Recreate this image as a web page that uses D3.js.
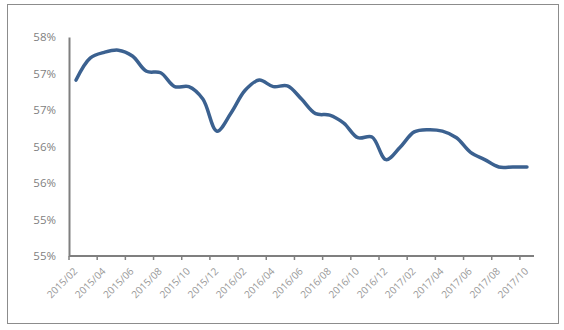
<!DOCTYPE html>
<html>
<head>
<meta charset="utf-8">
<script src="https://cdn.jsdelivr.net/npm/d3@7"></script>
<style>
  body { margin: 0; background: #fff; }
  text { font-family: "Open Sans", "Noto Sans", sans-serif; fill: #7f7f7f; }
</style>
</head>
<body>
<div id="chart"></div>
<script>
// data ---------------------------------------------------------
const months = [
  "2015/02", "2015/03", "2015/04", "2015/05", "2015/06", "2015/07", "2015/08", "2015/09",
  "2015/10", "2015/11", "2015/12", "2016/01", "2016/02", "2016/03", "2016/04", "2016/05",
  "2016/06", "2016/07", "2016/08", "2016/09", "2016/10", "2016/11", "2016/12", "2017/01",
  "2017/02", "2017/03", "2017/04", "2017/05", "2017/06", "2017/07", "2017/08", "2017/09",
  "2017/10"
];
const values = [
  57.41, 57.71, 57.79, 57.82, 57.74, 57.53, 57.51, 57.32,
  57.32, 57.15, 56.71, 56.96, 57.27, 57.41, 57.32, 57.33,
  57.15, 56.95, 56.93, 56.82, 56.62, 56.63, 56.32, 56.49,
  56.70, 56.73, 56.71, 56.62, 56.42, 56.32, 56.22, 56.22,
  56.22
];
const yTicks = [55, 55.5, 56, 56.5, 57, 57.5, 58];
const yTickLabels = ["55%", "55%", "56%", "56%", "57%", "57%", "58%"];

const W = 564, H = 330;
const margin = { top: 37, right: 30, bottom: 74, left: 69 };
const width = W - margin.left - margin.right,
  height = H - margin.top - margin.bottom;

const svg = d3.select("#chart").append("svg")
  .attr("width", W).attr("height", H);

// outer frame
svg.append("rect")
  .attr("x", 7.5).attr("y", 4.5)
  .attr("width", 551).attr("height", 319)
  .attr("fill", "none").attr("stroke", "#8c8c8c").attr("stroke-width", 1);

const g = svg.append("g")
  .attr("transform", "translate(" + margin.left + "," + margin.top + ")");

const x = d3.scaleBand().domain(months).range([0, 465]);
const y = d3.scaleLinear().domain([55, 58]).range([height, 0]);

// y axis
const yAxis = g.append("g")
  .call(d3.axisLeft(y).tickValues(yTicks).tickSize(0).tickPadding(13)
    .tickFormat((d, i) => yTickLabels[i]));
yAxis.select(".domain").attr("stroke", "#7f7f7f").attr("stroke-width", 2);
yAxis.selectAll("text").attr("font-size", 11.5).style("fill", "#7f7f7f");

// x axis: ticks at every second category boundary
const tickPos = months.filter((d, i) => i % 2 === 0);
const xAxis = g.append("g").attr("transform", "translate(0," + height + ")");
xAxis.append("line")
  .attr("x1", 0).attr("x2", 465).attr("y1", 0).attr("y2", 0)
  .attr("stroke", "#7f7f7f").attr("stroke-width", 2);
xAxis.selectAll(".tick-mark").data(tickPos).enter().append("line")
  .attr("class", "tick-mark")
  .attr("x1", (d) => x(d)).attr("x2", (d) => x(d))
  .attr("y1", 0).attr("y2", 4)
  .attr("stroke", "#7f7f7f").attr("stroke-width", 1.5);
xAxis.selectAll(".x-label").data(tickPos).enter().append("text")
  .attr("class", "x-label")
  .attr("text-anchor", "end")
  .attr("font-size", 10)
  .style("fill", "#999")
  .attr("transform", (d) => "translate(" + (x(d) + x.bandwidth() / 2 + 2) + ",16) rotate(-45)")
  .text((d) => d);

// line
const line = d3.line()
  .x((d, i) => x(months[i]) + x.bandwidth() / 2)
  .y((d) => y(d))
  .curve(d3.curveCatmullRom.alpha(0.5));

g.append("path")
  .datum(values)
  .attr("fill", "none")
  .attr("stroke", "#3b6190")
  .attr("stroke-width", 3.5)
  .attr("stroke-linecap", "round")
  .attr("d", line);
</script>
</body>
</html>
